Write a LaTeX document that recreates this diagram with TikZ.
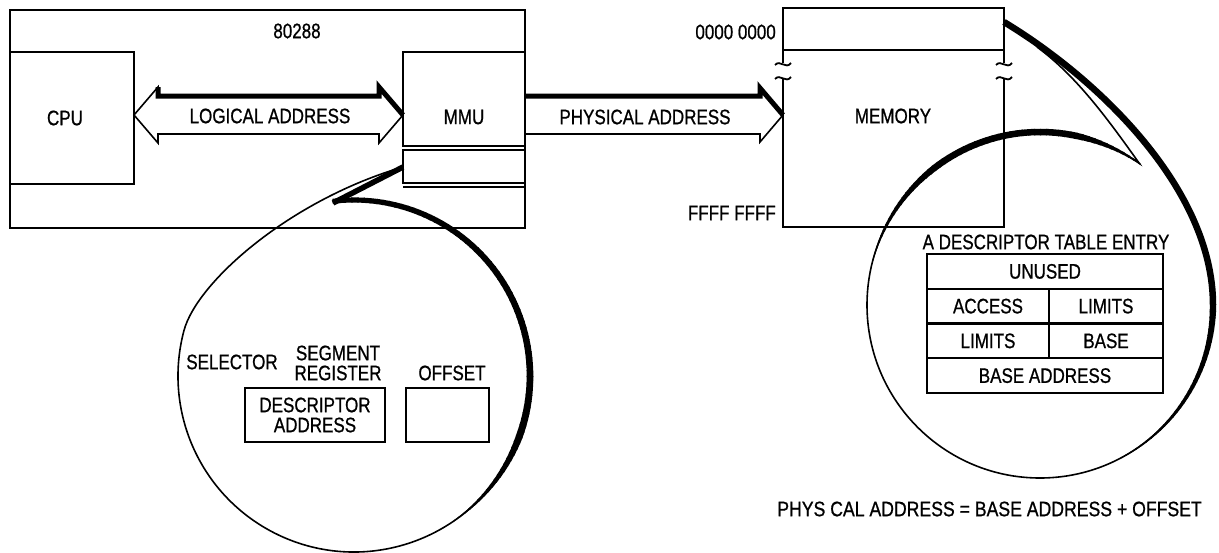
\documentclass[tikz,border=0pt]{standalone}
\usepackage{fontspec}
\setmainfont{Liberation Sans}[FakeStretch=0.81, FakeBold=0.8]
\newfontfamily\formfont{Liberation Sans}[FakeStretch=0.84, FakeBold=0.8]
\usetikzlibrary{calc}

% arc whose stroke width changes linearly from #5 to #6 (pt), angles #3 < #4
\newcommand\taperArc[6]{%
  \pgfmathtruncatemacro\tpN{max(1,abs(#4-#3)/2)}%
  \foreach \tpI in {1,...,\tpN}{%
    \pgfmathsetmacro\tpA{#3+(#4-#3)*(\tpI-1)/\tpN}%
    \pgfmathsetmacro\tpB{#3+(#4-#3)*\tpI/\tpN+0.4}%
    \pgfmathsetmacro\tpW{#5+(#6-#5)*(\tpI-0.5)/\tpN}%
    \draw[line width=\tpW pt] (#1) ++(\tpA:#2) arc[start angle=\tpA, end angle=\tpB, radius=#2];
  }%
}

\tikzset{
  box/.style={draw, line width=2.4pt, rectangle, inner sep=0pt, outer sep=0pt, anchor=north west},
  boxline/.style={line width=2.4pt},
  lbl/.style={inner sep=0pt, font=\fontsize{21}{20}\selectfont, align=center},
  thinline/.style={line width=1.6pt},
  heavy/.style={line width=5pt},
  cell/.style={draw, line width=2.4pt, rectangle, inner sep=0pt, outer sep=0pt, anchor=north west,
    minimum height=34.75pt, font=\fontsize{21}{20}\selectfont},
  regbox/.style={draw, line width=2.8pt, rectangle, inner sep=0pt, outer sep=0pt, anchor=north west},
}

\begin{document}
\begin{tikzpicture}[x=1pt, y=-1pt, line join=miter]
\useasboundingbox (0,0) rectangle (1219,552);

% ---------------- 80288 chip ----------------
\node[box, minimum width=515pt, minimum height=218pt] (chip) at (10,10) {};
\node[lbl] (chipname) at (297,31) {80288};
\node[box, minimum width=124pt, minimum height=132pt] (cpu) at (10,52) {};
\node[lbl] (cputext) at (65,118) {CPU};
\node[box, minimum width=122pt, minimum height=94pt] (mmu) at (403,52) {};
\node[lbl] (mmutext) at (464,117) {MMU};
\node[box, minimum width=122pt, minimum height=33pt] (reg) at (403,150) {};
\draw[boxline] (reg.south west) ++(0,4) coordinate (rl) -- (rl -| reg.east);

% ---------------- memory ----------------
\node[box, minimum width=221pt, minimum height=42pt] (memtop) at (783,8) {};
\node[inner sep=0pt, outer sep=0pt, anchor=north west, minimum width=221pt, minimum height=177pt] (mem) at (783,50) {};
\node[lbl] (memtext) at (893,116) {MEMORY};
\node[lbl, anchor=east] (lowaddr) at (776,32) {0000 0000};
\node[lbl, anchor=east] (highaddr) at (776,213) {FFFF FFFF};
\draw[boxline] (mem.north west) -- ++(0,13);
\draw[boxline] ($(mem.north west)+(0,28)$) -- (mem.south west) -- (mem.south east) -- ($(mem.north east)+(0,28)$);
\draw[boxline] (mem.north east) -- ++(0,13);
% break marks on both sides
\foreach \bx in {783,1004}{
  \draw[line width=1.8pt] (\bx-8,65) .. controls (\bx-3,59) and (\bx+3,70) .. (\bx+8,63);
  \draw[line width=1.8pt] (\bx-8,79) .. controls (\bx-3,73) and (\bx+3,84) .. (\bx+8,77);
}

% ---------------- address buses ----------------
\coordinate (ay) at (0,115);
\coordinate (la) at (cpu.east |- ay);
\coordinate (lb) at (mmu.west |- ay);
\draw[thinline] (la) -- ++(24,-28) -- ++(0,9) -- ($(lb)+(-24,-19)$) -- ++(0,-9) -- (lb)
  -- ++(-24,28) -- ++(0,-9) -- ($(la)+(24,19)$) -- ++(0,9) -- cycle;
\draw[heavy] ($(la)+(24,-28)$) -- ++(0,9) -- ($(lb)+(-24,-19)$) -- ++(0,-9) -- (lb);
\node[lbl] (logtext) at (270,116) {LOGICAL ADDRESS};

\coordinate (pa) at (mmu.east |- ay);
\coordinate (pb) at (mem.west |- ay);
\draw[thinline] ($(pa)+(0,-19)$) -- ($(pb)+(-23,-19)$) -- ++(0,-8) -- (pb)
  -- ++(-23,27) -- ++(0,-8) -- ($(pa)+(0,19)$);
\draw[heavy] ($(pa)+(0,-19)$) -- ($(pb)+(-23,-19)$) -- ++(0,-8) -- (pb);
\node[lbl] (phystext) at (645,117) {PHYSICAL ADDRESS};

% ---------------- balloon from the segment register ----------------
\coordinate (lbc) at (354,376);
\coordinate (lcusp) at (333,203);
\coordinate (ltip) at (403,167);
\draw[thinline] (lbc) ++(30:176) arc[start angle=30, end angle=195, radius=176]
  .. controls (197,282) and (290,200) .. (ltip);
\draw[line width=5.5pt] (ltip) -- (lcusp);
\taperArc{lbc}{176}{-97}{-40}{5}{6}
\taperArc{lbc}{176}{-40}{20}{6}{7}
\taperArc{lbc}{176}{20}{55}{7}{0.8}

\node[lbl] (selector) at (232,362) {SELECTOR};
\node[lbl] (segreg) at (338,363) {SEGMENT\\REGISTER};
\node[lbl] (offset) at (452,373) {OFFSET};
\node[regbox, minimum width=140pt, minimum height=54pt] (desc) at (245,388) {};
\node[lbl] at (desc.center) {DESCRIPTOR\\ADDRESS};
\node[regbox, minimum width=83pt, minimum height=54pt] (offbox) at (406,388) {};

% ---------------- balloon from the descriptor table ----------------
\coordinate (rbc) at (1040,305);
\coordinate (rcorner) at (1004,22);
\draw[thinline] (rbc) ++(0:173) arc[start angle=0, end angle=305, radius=173]
  .. controls (1105,115) and (1075,75) .. (1037,47);
\draw[line width=6.5pt] (rcorner) .. controls (1100,80) and (1213,190) .. (1213,305);
\taperArc{rbc}{173}{195}{232}{0.8}{6.5}
\taperArc{rbc}{173}{232}{282}{6.5}{6.5}
\taperArc{rbc}{173}{282}{305}{6.5}{1.2}
\taperArc{rbc}{173}{0}{62}{6.5}{0.8}

\node[lbl] (tabtitle) at (1046,242) {A DESCRIPTOR TABLE ENTRY};
\node[cell, minimum width=236pt] (tu) at (927,254) {UNUSED};
\node[cell, minimum width=122pt] (tac) at (927,288.75) {ACCESS};
\node[cell, minimum width=114pt] (tl1) at (1049,288.75) {LIMITS};
\node[cell, minimum width=122pt] (tl2) at (927,323.5) {LIMITS};
\node[cell, minimum width=114pt] (tb) at (1049,323.5) {BASE};
\node[cell, minimum width=236pt] (tba) at (927,358.25) {BASE ADDRESS};

\node[lbl, anchor=east, font=\fontsize{21}{20}\formfont] (formula) at (1202,509) {PHYS CAL ADDRESS = BASE ADDRESS + OFFSET};
\end{tikzpicture}
\end{document}
